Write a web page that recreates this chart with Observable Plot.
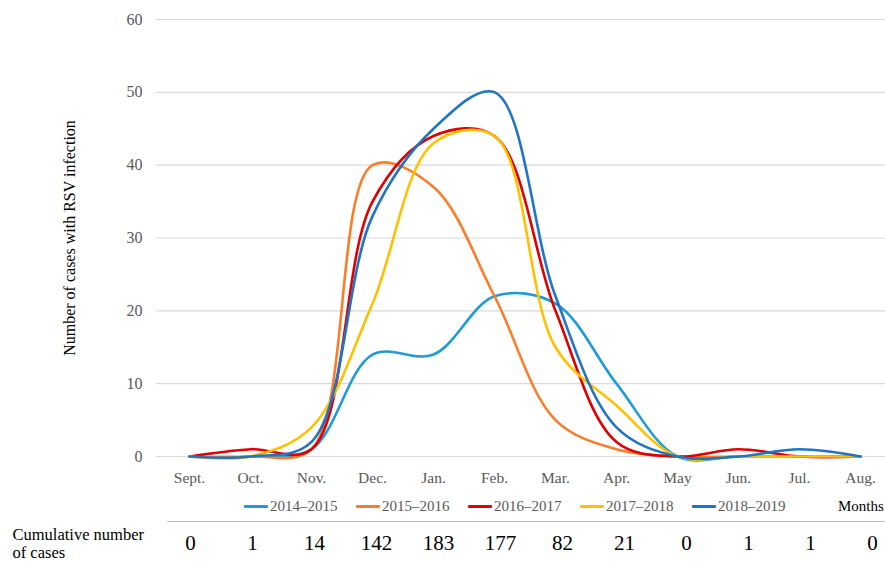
<!DOCTYPE html>
<html>
<head>
<meta charset="utf-8">
<script src="https://cdn.jsdelivr.net/npm/d3@7"></script>
<script src="https://cdn.jsdelivr.net/npm/@observablehq/plot@0.6"></script>
<style>
  html, body { margin: 0; padding: 0; background: #fff; }
  #wrap { position: relative; width: 885px; height: 565px; overflow: hidden; font-family: "Liberation Serif", "DejaVu Serif", "Times New Roman", serif; }
  #wrap svg { display: block; }
  #legend { position: relative; height: 28px; width: 885px; }
  .item { position: absolute; top: 0; height: 28px; display: flex; align-items: center; font-size: 15px; color: #595959; white-space: nowrap; }
  .swatch { width: 24px; height: 3px; margin-right: 2px; border-radius: 1px; }
  #months { position: absolute; left: 838px; top: 0; height: 28px; display: flex; align-items: center; font-size: 15px; color: #000; white-space: nowrap; }
</style>
</head>
<body>
<div id="wrap">
  <div id="chart"></div>
  <div id="legend"></div>
  <div id="table"></div>
</div>
<script>
// ---- data ----
const months = ["Sept.", "Oct.", "Nov.", "Dec.", "Jan.", "Feb.", "Mar.", "Apr.", "May", "Jun.", "Jul.", "Aug."];
const seasons = ["2014\u20132015", "2015\u20132016", "2016\u20132017", "2017\u20132018", "2018\u20132019"];
const colors = ["#1f9bd7", "#fb7d2a", "#e00000", "#ffc000", "#1f74c6"];
const s2014_2015 = [0, 0, 1, 14, 14, 22, 21, 10, 0, 0, 0, 0];
const s2015_2016 = [0, 0, 1, 40, 37, 22, 5, 1, 0, 0, 0, 0];
const s2016_2017 = [0, 1, 1, 35, 44, 44, 20, 2, 0, 1, 0, 0];
const s2017_2018 = [0, 0, 4, 21, 43, 44, 15, 7, 0, 0, 0, 0];
const s2018_2019 = [0, 0, 2, 33, 45, 50, 22, 4, 0, 0, 1, 0];
const cumulative = [0, 1, 14, 142, 183, 177, 82, 21, 0, 1, 1, 0];
const yTicks = [0, 10, 20, 30, 40, 50, 60];
const yTitle = "Number of cases with RSV infection";
const xTitle = "Months";
const rowLabel = "Cumulative number\nof cases";

const FONT = "'Liberation Serif', 'DejaVu Serif', 'Times New Roman', serif";
const seriesValues = [s2014_2015, s2015_2016, s2016_2017, s2017_2018, s2018_2019];
const rows = [];
seriesValues.forEach((vals, i) => vals.forEach((v, j) => rows.push({season: seasons[i], month: months[j], value: v})));

const chart = Plot.plot({
  width: 885,
  height: 492,
  marginLeft: 156,
  marginRight: 0,
  marginTop: 19,
  marginBottom: 36,
  style: {fontFamily: FONT, fontSize: "15px", background: "white", overflow: "visible"},
  x: {type: "point", domain: months, range: [187, 862], padding: 0, label: null},
  y: {domain: [0, 60], label: null},
  color: {domain: seasons, range: colors},
  marks: [
    Plot.ruleY(yTicks, {stroke: "#d9d9d9", strokeWidth: 1.2}),
    Plot.axisY({ticks: yTicks, tickSize: 0, tickPadding: 14, fontSize: 16, fill: "#595959", fontFamily: FONT, label: null}),
    Plot.axisX({tickSize: 0, tickPadding: 15, fontSize: 15.5, fill: "#595959", fontFamily: FONT, label: null}),
    Plot.line(rows, {x: "month", y: "value", z: "season", stroke: "season", strokeWidth: 2.6, curve: "catmull-rom"}),
    Plot.text([yTitle], {text: d => d, frameAnchor: "left", textAnchor: "middle", rotate: -90, dx: -87, fontSize: 16, fill: "#000"})
  ]
});
document.getElementById("chart").appendChild(chart);

// legend
const legend = document.getElementById("legend");
seasons.forEach((s, i) => {
  const it = document.createElement("div");
  it.className = "item";
  it.style.left = (244 + i * 112) + "px";
  const sw = document.createElement("div");
  sw.className = "swatch";
  sw.style.background = colors[i];
  const tx = document.createElement("span");
  tx.textContent = s;
  it.appendChild(sw); it.appendChild(tx);
  legend.appendChild(it);
});
const m = document.createElement("div");
m.id = "months"; m.textContent = xTitle;
legend.appendChild(m);

// table row
const table = Plot.plot({
  width: 885,
  height: 45,
  marginLeft: 167,
  marginRight: 0,
  marginTop: 1,
  marginBottom: 0,
  style: {fontFamily: FONT, background: "white", overflow: "visible"},
  x: {type: "point", domain: months, range: [189, 873], padding: 0, axis: null},
  marks: [
    Plot.frame({anchor: "top", stroke: "#bfbfbf", strokeWidth: 1.2}),
    Plot.text(cumulative, {x: (d, i) => months[i], text: d => String(d), fontSize: 21, fill: "#000"}),
    Plot.text([rowLabel], {text: d => d, frameAnchor: "left", dx: -155, textAnchor: "start", fontSize: 16.5, lineHeight: 1.1, fill: "#000"})
  ]
});
document.getElementById("table").appendChild(table);
</script>
</body>
</html>
